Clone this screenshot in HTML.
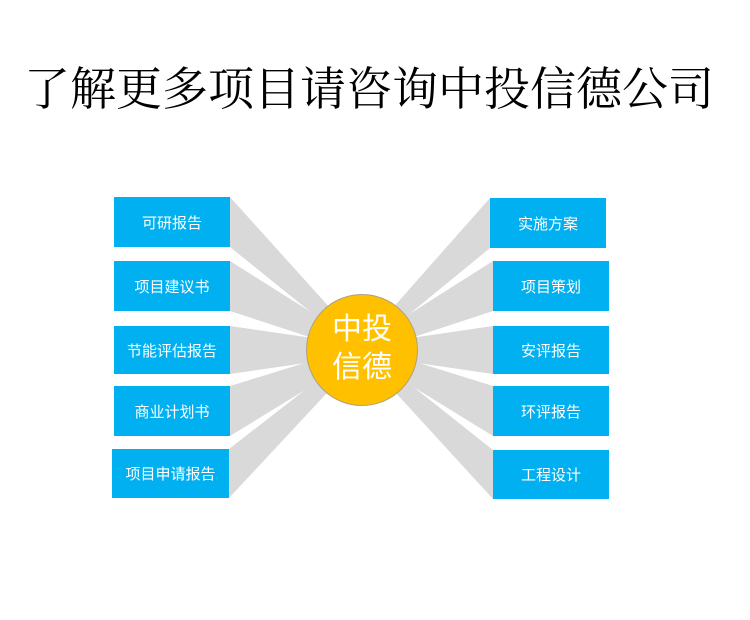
<!DOCTYPE html>
<html><head><meta charset="utf-8"><style>
html,body{margin:0;padding:0;background:#fff;}
body{width:750px;height:620px;position:relative;overflow:hidden;font-family:"Liberation Sans","Noto Sans CJK SC",sans-serif;}
.t{position:absolute;left:24px;top:63px;width:700px;font-family:"Liberation Serif","Noto Serif CJK SC",serif;font-size:46px;line-height:54px;white-space:nowrap;color:#000;}
.b{position:absolute;background:#00b0f0;color:#fff;font-size:15px;display:flex;align-items:center;justify-content:center;}
.c{position:absolute;left:306px;top:294px;width:112px;height:112px;border-radius:50%;background:#ffc000;border:1px solid #b0a080;box-sizing:border-box;color:#fff;font-size:30px;line-height:38px;text-align:center;padding-top:16px;}
</style></head><body>
<div class="t">了解更多项目请咨询中投信德公司</div>
<svg width="750" height="620" style="position:absolute;left:0;top:0">
<g fill="#d9d9d9">
<polygon points="230,197 230,247 395,380"/>
<polygon points="230,261 230,311 395,365"/>
<polygon points="230,326 230,374 395,350"/>
<polygon points="230,386 230,436 395,335"/>
<polygon points="229,449 229,498 395,320"/>
<polygon points="490,198 490,248 329,380"/>
<polygon points="493,261 493,311 329,365"/>
<polygon points="493,326 493,374 329,350"/>
<polygon points="493,386 493,436 329,335"/>
<polygon points="493,450 493,499 329,320"/>
</g></svg>
<div class="b" style="left:114px;top:197px;width:116px;height:50px">可研报告</div>
<div class="b" style="left:114px;top:261px;width:116px;height:50px">项目建议书</div>
<div class="b" style="left:114px;top:326px;width:116px;height:48px">节能评估报告</div>
<div class="b" style="left:114px;top:386px;width:116px;height:50px">商业计划书</div>
<div class="b" style="left:112px;top:449px;width:117px;height:49px">项目申请报告</div>
<div class="b" style="left:490px;top:198px;width:116px;height:50px">实施方案</div>
<div class="b" style="left:493px;top:261px;width:116px;height:50px">项目策划</div>
<div class="b" style="left:493px;top:326px;width:116px;height:48px">安评报告</div>
<div class="b" style="left:493px;top:386px;width:116px;height:50px">环评报告</div>
<div class="b" style="left:493px;top:450px;width:116px;height:49px">工程设计</div>
<div class="c">中投<br>信德</div>
</body></html>
